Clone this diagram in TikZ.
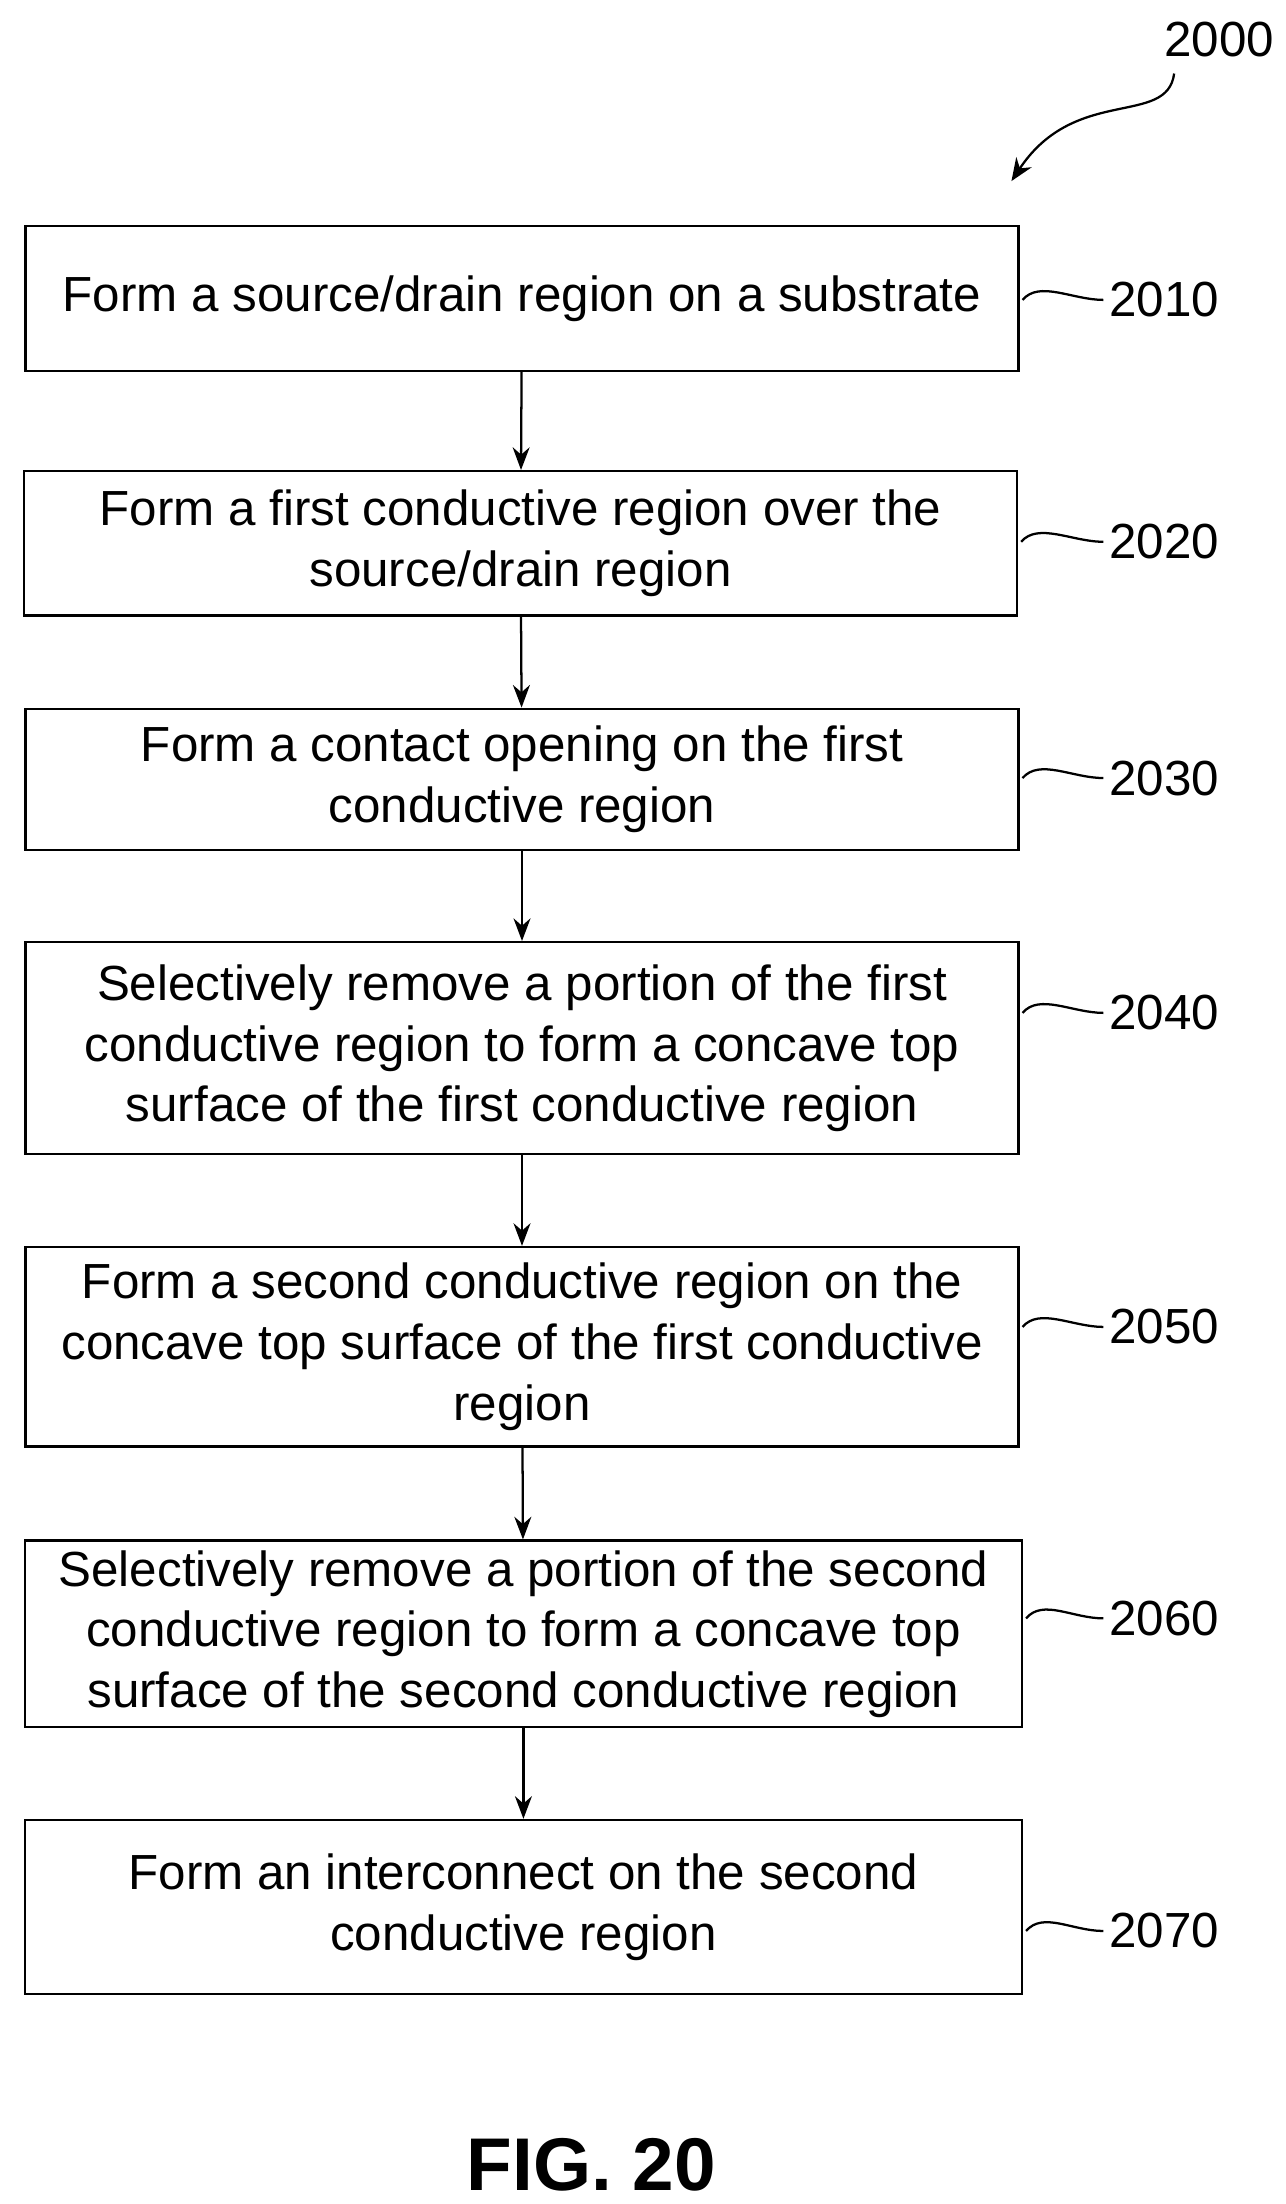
\documentclass[tikz,border=0pt]{standalone}
\usepackage{fontspec}
\setmainfont{Liberation Sans}
\usetikzlibrary{arrows.meta}
\begin{document}
\begin{tikzpicture}[x=1bp,y=-1bp,line width=1.6bp,
    stepbox/.style = {draw,align=center,minimum width=702bp,inner sep=0pt,
                   font=\fontsize{35}{43}\selectfont},
    arrow/.style = {-{Stealth[length=16bp,width=12bp]}},
    tag/.style = {font=\fontsize{35}{40}\selectfont,anchor=west},
    squig/.style = {}]
    \useasboundingbox (0,0) rectangle (909,1558);

    \node[stepbox,minimum height=102bp] (s2010) at (369,211) {Form a source/drain region on a substrate};
    \node[stepbox,minimum height=102bp] (s2020) at (368,384) {Form a first conductive region over the\\source/drain region};
    \node[stepbox,minimum height=100bp] (s2030) at (369,551) {Form a contact opening on the first\\conductive region};
    \node[stepbox,minimum height=150bp] (s2040) at (369,741) {Selectively remove a portion of the first\\conductive region to form a concave top\\surface of the first conductive region};
    \node[stepbox,minimum height=141bp] (s2050) at (369,952) {Form a second conductive region on the\\concave top surface of the first conductive\\region};
    \node[stepbox,minimum height=132bp,minimum width=705bp] (s2060) at (370,1155) {Selectively remove a portion of the second\\conductive region to form a concave top\\surface of the second conductive region};
    \node[stepbox,minimum height=123bp,minimum width=705bp] (s2070) at (370,1348) {Form an interconnect on the second\\conductive region};

    \foreach \a/\b in {s2010/s2020,s2020/s2030,s2030/s2040,s2040/s2050,s2050/s2060,s2060/s2070}
        \draw[arrow] (\a) -- (\b);

    % reference numerals
    \foreach \n/\y in {2010/212,2020/383,2030/550,2040/716,2050/938,2060/1144,2070/1365}{
        \node[tag] (t\n) at (780,\y) {\n};
        \draw[squig] (s\n.east |- t\n.west) ++(2,0) .. controls +(12,-14) and +(-22,0) .. (t\n.west);
    }

    \node[font=\fontsize{35}{40}\selectfont] (t2000) at (862,28) {2000};
    \coordinate (p2000) at (715,128);
    \draw[-{Stealth[length=16bp,width=13bp]}] (830,52) .. controls (825,90) and (760,60) .. (p2000);

    \node[font=\bfseries\fontsize{53}{60}\selectfont] (fig) at (418,1530) {FIG. 20};
\end{tikzpicture}
\end{document}
